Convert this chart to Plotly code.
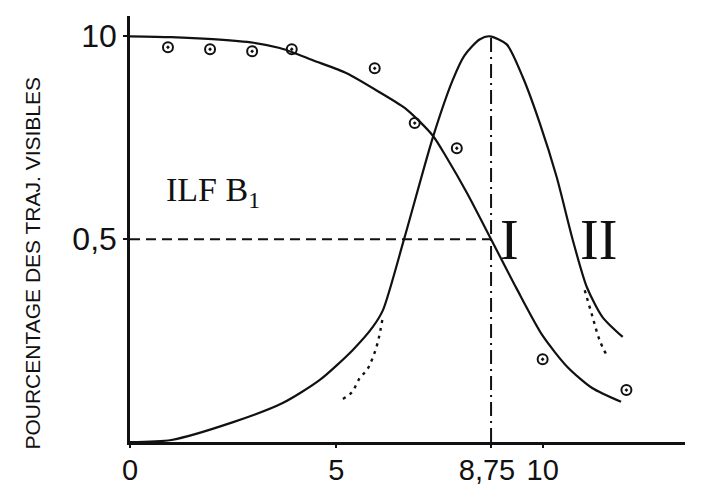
import plotly.graph_objects as go

# Observed fractions of visible tracks (circles)
obs_days = [0.92, 1.94, 2.96, 3.92, 5.93, 6.9, 7.92, 10.0, 12.03]
obs_frac = [0.973, 0.968, 0.963, 0.968, 0.921, 0.786, 0.724, 0.204, 0.128]

# Curve I: decreasing fraction of visible tracks
c1_days = [0.0, 1.0, 2.0, 3.0, 3.63, 3.95, 4.43, 5.25, 6.05, 6.7, 7.34, 7.68, 8.16, 8.75,
           9.37, 10.0, 10.6, 11.2, 11.9]
c1_frac = [1.0, 0.998, 0.993, 0.984, 0.971, 0.96, 0.941, 0.909, 0.862, 0.82, 0.755, 0.7, 0.615, 0.5,
           0.378, 0.262, 0.185, 0.133, 0.099]

# Curve II: peaked distribution
c2_days = [0.0, 1.0, 2.5, 3.7, 4.6, 5.4, 5.88, 6.13, 6.65, 7.34, 7.82, 8.1, 8.47, 8.72, 9.13,
           9.52, 9.93, 10.34, 10.73, 11.07, 11.45, 11.94]
c2_frac = [0.0, 0.005, 0.049, 0.096, 0.153, 0.227, 0.283, 0.325, 0.503, 0.751, 0.892, 0.952, 0.992, 1.0, 0.98,
           0.899, 0.786, 0.653, 0.498, 0.382, 0.308, 0.259]

# Dotted extrapolations
d1_days = [5.16, 5.38, 5.57, 5.74, 5.86, 6.0, 6.13]
d1_frac = [0.106, 0.123, 0.158, 0.177, 0.202, 0.244, 0.31]
d2_days = [11.02, 11.21, 11.38, 11.55]
d2_frac = [0.374, 0.308, 0.251, 0.214]

# Reference lines
half_day = 8.75
half_frac = 0.5
peak_frac = 1.0

NB = "\u00a0"
x_ticks = [0, 5, 8.75, 10]
x_tick_text = ["0", "5", "8,75" + NB, "10"]
y_ticks = [0.5, 1.0]
y_tick_text = ["0,5", "10"]

SANS = "Liberation Sans, Arial, sans-serif"
SERIF = "Liberation Serif, DejaVu Serif, serif"
INK = "#111111"

fig = go.Figure()

fig.add_trace(go.Scatter(x=[0, half_day], y=[half_frac, half_frac], mode="lines",
                         line=dict(color=INK, width=2, dash="10px,6px"), hoverinfo="skip"))
fig.add_trace(go.Scatter(x=[half_day, half_day], y=[0, peak_frac], mode="lines",
                         line=dict(color=INK, width=2, dash="14px,5px,2px,5px"), hoverinfo="skip"))

fig.add_trace(go.Scatter(x=c1_days, y=c1_frac, mode="lines",
                         line=dict(color=INK, width=2.2, shape="spline", smoothing=0.7)))
fig.add_trace(go.Scatter(x=c2_days, y=c2_frac, mode="lines",
                         line=dict(color=INK, width=2.2, shape="spline", smoothing=0.7)))
fig.add_trace(go.Scatter(x=d1_days, y=d1_frac, mode="lines",
                         line=dict(color=INK, width=2.4, dash="3px,5px", shape="spline")))
fig.add_trace(go.Scatter(x=d2_days, y=d2_frac, mode="lines",
                         line=dict(color=INK, width=2.4, dash="3px,5px", shape="spline")))

fig.add_trace(go.Scatter(x=obs_days, y=obs_frac, mode="markers", cliponaxis=False,
                         marker=dict(symbol="circle-open-dot", size=10, color=INK,
                                     line=dict(color=INK, width=2))))

annotations = [
    dict(x=2.0, y=0.616, text="ILF B<sub>1</sub>", showarrow=False,
         font=dict(family=SERIF, size=34, color=INK)),
    dict(x=9.2, y=0.497, text="I", showarrow=False,
         font=dict(family=SERIF, size=56, color=INK)),
    dict(x=11.36, y=0.497, text="II", showarrow=False,
         font=dict(family=SERIF, size=56, color=INK)),
    dict(x=13.1, y=-0.062, text="JOURS", showarrow=False, yanchor="middle",
         font=dict(family=SANS, size=31, color=INK)),
    dict(xref="paper", yref="paper", x=-0.2, y=0.42, text="POURCENTAGE DES TRAJ. VISIBLES",
         textangle=-90, showarrow=False,
         font=dict(family=SANS, size=21, color=INK)),
]

fig.update_layout(
    width=725, height=488,
    margin=dict(l=130, r=40, t=16, b=46, autoexpand=False),
    paper_bgcolor="white", plot_bgcolor="white",
    showlegend=False,
    annotations=annotations,
    xaxis=dict(range=[0, 13.45], showgrid=False, zeroline=False, showline=True,
               linecolor=INK, linewidth=2.5, tickvals=x_ticks, ticktext=x_tick_text,
               tickangle=0, automargin=False, ticklabelstandoff=-3,
               ticks="outside", ticklen=3, tickwidth=2, tickcolor=INK,
               tickfont=dict(family=SANS, size=29, color=INK)),
    yaxis=dict(range=[0, 1.05], showgrid=False, zeroline=False, showline=True,
               linecolor=INK, linewidth=2.5, tickvals=y_ticks, ticktext=y_tick_text,
               automargin=False,
               ticks="outside", ticklen=4, tickwidth=2, tickcolor=INK,
               tickfont=dict(family=SANS, size=32, color=INK)),
)

fig.write_html("out.html")
